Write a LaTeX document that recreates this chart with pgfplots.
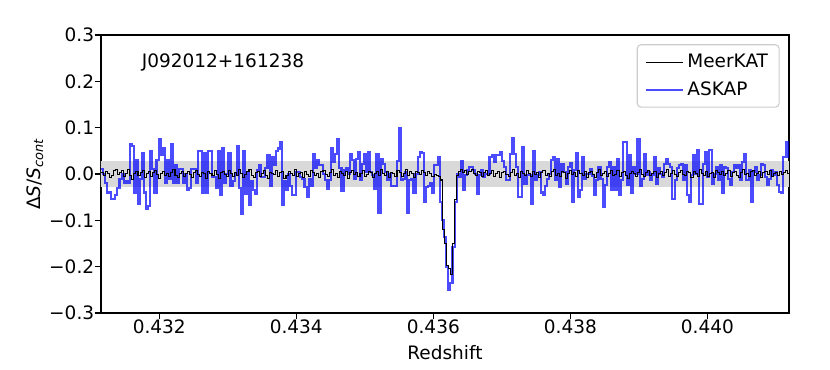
\documentclass[border=0pt]{standalone}
\usepackage{fontspec}
\setmainfont{DejaVu Sans}
\usepackage{pgfplots}
\usepackage{pgfplotstable}
\pgfplotsset{compat=1.18}
\definecolor{bandgray}{RGB}{217,217,217}
\definecolor{legframe}{RGB}{204,204,204}
\definecolor{askapblue}{RGB}{0,0,255}
\pgfplotsset{
  steplegend/.style={legend image code/.code={\draw[##1] (0pt,0pt) -- (20pt,0pt);}},
}

% redshift, ASKAP, MeerKAT (Delta S / S_cont)
\pgfplotstableread[row sep=\\]{
z askap meer\\
0.43115 0.010 0.004\\ 0.43118 0.000 -0.003\\ 0.43121 -0.020 0.006\\ 0.43124 -0.040 0.002\\ 0.43127 -0.040 -0.008\\
0.43130 -0.055 -0.004\\ 0.43133 -0.055 0.007\\ 0.43136 -0.045 0.010\\ 0.43139 -0.030 -0.002\\ 0.43142 -0.010 0.003\\
0.43145 0.000 0.008\\ 0.43148 -0.020 -0.006\\ 0.43151 -0.015 0.002\\ 0.43154 -0.020 0.009\\ 0.43157 0.065 -0.004\\
0.43160 0.060 -0.011\\ 0.43163 -0.040 0.001\\ 0.43166 0.030 0.006\\ 0.43169 -0.065 -0.003\\ 0.43172 -0.010 0.004\\
0.43175 0.045 0.008\\ 0.43178 -0.040 -0.007\\ 0.43181 -0.075 0.000\\ 0.43184 -0.070 0.005\\ 0.43187 0.050 -0.006\\
0.43190 0.010 0.003\\ 0.43193 -0.040 0.007\\ 0.43196 0.030 -0.002\\ 0.43199 0.075 -0.009\\ 0.43202 0.040 0.002\\
0.43205 0.055 0.006\\ 0.43208 -0.020 -0.004\\ 0.43211 0.030 0.001\\ 0.43214 -0.010 -0.006\\ 0.43217 0.065 0.004\\
0.43220 -0.020 0.009\\ 0.43223 0.020 -0.003\\ 0.43226 -0.020 -0.008\\ 0.43229 0.010 0.002\\ 0.43232 0.010 0.005\\
0.43235 -0.020 -0.005\\ 0.43238 0.000 0.000\\ 0.43241 -0.035 0.006\\ 0.43244 -0.030 -0.002\\ 0.43247 0.010 -0.007\\
0.43250 0.010 0.003\\ 0.43253 -0.020 0.008\\ 0.43256 0.050 -0.001\\ 0.43259 0.050 -0.006\\ 0.43262 -0.040 0.004\\
0.43265 0.045 0.002\\ 0.43268 -0.040 -0.009\\ 0.43271 0.050 0.005\\ 0.43274 0.050 0.001\\ 0.43277 -0.007 -0.004\\
0.43280 -0.007 0.007\\ 0.43283 -0.030 -0.002\\ 0.43286 0.050 -0.010\\ 0.43289 -0.045 0.003\\ 0.43292 0.055 0.006\\
0.43295 -0.020 -0.001\\ 0.43298 0.000 -0.005\\ 0.43301 0.045 0.008\\ 0.43304 -0.025 0.002\\ 0.43307 -0.015 -0.006\\
0.43310 0.000 0.004\\ 0.43313 0.060 -0.003\\ 0.43316 -0.030 0.009\\ 0.43319 -0.087 0.001\\ 0.43322 0.050 -0.007\\
0.43325 -0.043 -0.002\\ 0.43328 0.005 0.005\\ 0.43331 -0.068 0.010\\ 0.43334 -0.015 -0.004\\ 0.43337 -0.035 -0.008\\
0.43340 -0.043 0.003\\ 0.43343 0.008 0.006\\ 0.43346 0.020 -0.005\\ 0.43349 -0.007 0.001\\ 0.43352 -0.007 0.007\\
0.43355 0.012 -0.003\\ 0.43358 0.040 -0.009\\ 0.43361 -0.025 0.004\\ 0.43364 0.037 0.002\\ 0.43367 0.020 -0.002\\
0.43370 0.050 0.008\\ 0.43373 0.055 -0.006\\ 0.43376 0.068 0.003\\ 0.43379 -0.068 0.005\\ 0.43382 -0.015 -0.010\\
0.43385 -0.035 -0.004\\ 0.43388 0.000 0.006\\ 0.43391 -0.025 0.002\\ 0.43394 -0.046 -0.003\\ 0.43397 -0.046 0.009\\
0.43400 0.005 -0.005\\ 0.43403 0.005 0.001\\ 0.43406 -0.007 0.004\\ 0.43409 -0.010 -0.007\\ 0.43412 -0.028 0.006\\
0.43415 -0.050 -0.002\\ 0.43418 -0.010 -0.005\\ 0.43421 -0.025 0.008\\ 0.43424 0.043 0.003\\ 0.43427 0.012 -0.004\\
0.43430 0.030 0.002\\ 0.43433 0.019 -0.008\\ 0.43436 0.019 0.005\\ 0.43439 0.000 0.007\\ 0.43442 -0.014 -0.001\\
0.43445 -0.032 -0.006\\ 0.43448 -0.014 0.004\\ 0.43451 0.056 0.009\\ 0.43454 0.026 -0.003\\ 0.43457 0.044 0.000\\
0.43460 0.076 -0.007\\ 0.43463 0.012 0.005\\ 0.43466 -0.037 0.002\\ 0.43469 0.008 -0.004\\ 0.43472 0.012 0.006\\
0.43475 0.000 -0.009\\ 0.43478 0.044 0.003\\ 0.43481 0.030 0.007\\ 0.43484 -0.010 -0.002\\ 0.43487 0.033 0.004\\
0.43490 0.047 -0.006\\ 0.43493 -0.014 0.001\\ 0.43496 0.022 0.008\\ 0.43499 0.044 -0.005\\ 0.43502 0.004 -0.001\\
0.43505 0.047 0.006\\ 0.43508 0.004 0.003\\ 0.43511 -0.003 -0.007\\ 0.43514 -0.032 0.002\\ 0.43517 0.044 0.005\\
0.43520 -0.084 -0.004\\ 0.43523 0.033 0.009\\ 0.43526 0.022 0.000\\ 0.43529 0.004 -0.003\\ 0.43532 -0.014 0.006\\
0.43535 0.000 -0.008\\ 0.43538 -0.025 0.004\\ 0.43541 -0.025 0.001\\ 0.43544 -0.025 -0.005\\ 0.43547 0.028 0.007\\
0.43550 0.100 0.003\\ 0.43553 -0.014 -0.006\\ 0.43556 -0.010 0.002\\ 0.43559 0.004 0.010\\ 0.43562 -0.085 -0.004\\
0.43565 -0.014 0.005\\ 0.43568 -0.010 0.001\\ 0.43571 -0.040 -0.007\\ 0.43574 0.000 0.006\\ 0.43577 0.037 0.003\\
0.43580 0.047 -0.002\\ 0.43583 0.045 0.008\\ 0.43586 -0.060 0.004\\ 0.43589 -0.028 -0.003\\ 0.43592 -0.025 0.006\\
0.43595 -0.020 0.002\\ 0.43598 -0.042 -0.005\\ 0.43601 0.019 -0.002\\ 0.43604 0.019 -0.004\\ 0.43607 0.037 -0.006\\
0.43610 -0.060 -0.013\\ 0.43613 -0.100 -0.120\\ 0.43616 -0.136 -0.150\\ 0.43619 -0.200 -0.197\\ 0.43622 -0.250 -0.205\\
0.43625 -0.235 -0.218\\ 0.43628 -0.157 -0.149\\ 0.43631 -0.060 -0.056\\ 0.43634 0.000 -0.004\\ 0.43637 -0.007 0.006\\
0.43640 0.027 0.010\\ 0.43643 -0.035 0.003\\ 0.43646 -0.003 0.008\\ 0.43649 0.008 -0.002\\ 0.43652 0.015 0.005\\
0.43655 0.015 0.009\\ 0.43658 0.008 0.001\\ 0.43661 0.000 -0.004\\ 0.43664 -0.043 0.006\\ 0.43667 -0.003 0.003\\
0.43670 0.008 -0.006\\ 0.43673 -0.007 0.004\\ 0.43676 0.000 0.008\\ 0.43679 0.000 -0.003\\ 0.43682 0.037 0.002\\
0.43685 0.040 0.007\\ 0.43688 0.026 -0.005\\ 0.43691 0.040 0.001\\ 0.43694 0.040 0.006\\ 0.43697 0.047 -0.008\\
0.43700 0.029 0.003\\ 0.43703 0.015 0.005\\ 0.43706 -0.014 -0.002\\ 0.43709 -0.014 -0.006\\ 0.43712 0.044 0.004\\
0.43715 0.078 0.009\\ 0.43718 0.043 -0.003\\ 0.43721 0.015 0.001\\ 0.43724 -0.050 -0.007\\ 0.43727 -0.050 0.005\\
0.43730 0.058 0.002\\ 0.43733 -0.021 -0.004\\ 0.43736 -0.003 0.008\\ 0.43739 -0.003 0.000\\ 0.43742 -0.065 -0.005\\
0.43745 0.050 0.006\\ 0.43748 -0.014 -0.002\\ 0.43751 -0.003 0.003\\ 0.43754 0.004 -0.008\\ 0.43757 -0.040 0.004\\
0.43760 -0.046 0.007\\ 0.43763 -0.025 -0.004\\ 0.43766 -0.010 0.001\\ 0.43769 0.000 -0.006\\ 0.43772 0.030 0.005\\
0.43775 0.037 0.009\\ 0.43778 -0.014 -0.003\\ 0.43781 0.033 0.002\\ 0.43784 -0.028 -0.005\\ 0.43787 0.022 0.006\\
0.43790 0.004 0.003\\ 0.43793 -0.021 -0.009\\ 0.43796 0.015 0.001\\ 0.43799 0.024 0.007\\ 0.43802 -0.060 -0.002\\
0.43805 0.008 0.004\\ 0.43808 0.046 -0.006\\ 0.43811 -0.050 0.008\\ 0.43814 -0.035 0.000\\ 0.43817 0.037 -0.004\\
0.43820 -0.010 0.005\\ 0.43823 0.000 -0.007\\ 0.43826 0.000 0.003\\ 0.43829 0.011 0.006\\ 0.43832 -0.005 -0.002\\
0.43835 -0.046 -0.008\\ 0.43838 -0.014 0.004\\ 0.43841 0.015 0.010\\ 0.43844 -0.010 -0.003\\ 0.43847 -0.071 0.001\\
0.43850 -0.024 0.006\\ 0.43853 0.015 -0.005\\ 0.43856 0.026 0.002\\ 0.43859 -0.035 0.007\\ 0.43862 0.015 -0.004\\
0.43865 -0.035 -0.001\\ 0.43868 0.033 0.008\\ 0.43871 -0.046 -0.006\\ 0.43874 -0.014 0.003\\ 0.43877 0.069 0.005\\
0.43880 0.069 -0.003\\ 0.43883 -0.024 -0.009\\ 0.43886 0.040 0.002\\ 0.43889 -0.042 0.006\\ 0.43892 0.015 0.001\\
0.43895 0.000 -0.005\\ 0.43898 0.076 0.004\\ 0.43901 -0.025 0.009\\ 0.43904 -0.010 -0.002\\ 0.43907 0.044 -0.006\\
0.43910 -0.003 0.003\\ 0.43913 0.004 0.007\\ 0.43916 -0.014 -0.004\\ 0.43919 -0.003 0.000\\ 0.43922 0.037 0.005\\
0.43925 -0.021 -0.008\\ 0.43928 0.012 0.002\\ 0.43931 0.000 0.006\\ 0.43934 -0.006 -0.003\\ 0.43937 0.022 0.004\\
0.43940 0.033 0.010\\ 0.43943 0.022 -0.005\\ 0.43946 0.015 0.001\\ 0.43949 -0.053 0.007\\ 0.43952 -0.014 -0.002\\
0.43955 0.012 -0.006\\ 0.43958 0.019 0.004\\ 0.43961 0.022 0.008\\ 0.43964 -0.014 -0.001\\ 0.43967 0.019 -0.004\\
0.43970 -0.046 0.006\\ 0.43973 -0.060 0.003\\ 0.43976 -0.003 -0.007\\ 0.43979 0.040 0.005\\ 0.43982 0.000 0.002\\
0.43985 0.051 -0.005\\ 0.43988 -0.064 0.009\\ 0.43991 -0.064 0.001\\ 0.43994 0.022 -0.003\\ 0.43997 0.047 0.006\\
0.44000 -0.006 -0.006\\ 0.44003 0.051 0.002\\ 0.44006 -0.021 0.004\\ 0.44009 0.000 -0.008\\ 0.44012 0.015 0.007\\
0.44015 -0.014 0.003\\ 0.44018 0.019 -0.002\\ 0.44021 -0.042 0.005\\ 0.44024 0.015 -0.004\\ 0.44027 0.012 0.001\\
0.44030 -0.010 0.008\\ 0.44033 -0.024 -0.005\\ 0.44036 0.004 0.003\\ 0.44039 0.019 0.006\\ 0.44042 0.012 -0.003\\
0.44045 0.019 -0.007\\ 0.44048 -0.014 0.004\\ 0.44051 0.026 0.009\\ 0.44054 0.044 -0.001\\ 0.44057 -0.014 0.002\\
0.44060 0.008 -0.006\\ 0.44063 -0.060 0.005\\ 0.44066 0.004 0.007\\ 0.44069 0.015 -0.004\\ 0.44072 -0.014 0.001\\
0.44075 -0.003 0.006\\ 0.44078 0.022 -0.008\\ 0.44081 0.019 0.003\\ 0.44084 -0.006 0.005\\ 0.44087 -0.024 -0.002\\
0.44090 -0.010 0.008\\ 0.44093 0.008 -0.005\\ 0.44096 -0.003 0.002\\ 0.44099 0.004 0.004\\ 0.44102 -0.024 -0.003\\
0.44105 -0.039 0.006\\ 0.44108 -0.042 -0.002\\ 0.44111 0.037 0.003\\ 0.44114 0.069 0.007\\ 0.44117 0.037 0.001\\
0.44120 0.037 0.004\\ 0.44123 0.037 0.004\\
}\spec

\begin{document}
\begin{tikzpicture}
\begin{axis}[
  scale only axis,
  width=371.9pt, height=150.3pt,
  xmin=0.43115, xmax=0.44119,
  ymin=-0.3, ymax=0.3,
  scaled ticks=false,
  xtick={0.432,0.434,0.436,0.438,0.440},
  xticklabels={0.432,0.434,0.436,0.438,0.440},
  ytick={-0.3,-0.2,-0.1,0,0.1,0.2,0.3},
  yticklabels={−0.3,−0.2,−0.1,0.0,0.1,0.2,0.3},
  tick align=outside,
  tick pos=left,
  major tick length=3.5pt,
  tick style={black, line width=0.8pt},
  axis line style={line width=0.8pt},
  tick label style={font=\fontsize{10}{12}\selectfont},
  xticklabel style={inner sep=0pt},
  yticklabel style={inner sep=0pt},
  xlabel={Redshift},
  ylabel={Δ\textit{S}/\textit{S}\textsubscript{\textit{cont}}},
  label style={font=\fontsize{10}{12}\selectfont},
  xlabel style={at={(axis description cs:0.5,-0.144)}, anchor=center},
  ylabel style={at={(axis description cs:-0.096,0.5)}, anchor=center},
  steplegend,
  legend cell align=left,
  legend style={at={(1,1)}, anchor=north east, xshift=-5pt, yshift=-5pt,
    draw=legframe, rounded corners=2pt, line width=0.6pt,
    font=\fontsize{10}{12}\selectfont, inner xsep=4pt, inner ysep=3pt,
    row sep=2pt},
]
\addplot[draw=none, fill=bandgray, forget plot] coordinates {
  (0.4311,-0.029) (0.4413,-0.029) (0.4413,0.029) (0.4311,0.029)} --cycle;
\addplot[const plot, draw=askapblue, line width=1.1pt, draw opacity=0.7, forget plot]
  table[x=z, y=askap] {\spec};
\addplot[const plot, draw=black, line width=0.55pt, forget plot]
  table[x=z, y=meer] {\spec};
\addlegendimage{draw=black, line width=0.6pt}
\addlegendentry{MeerKAT}
\addlegendimage{draw=askapblue, line width=1.1pt, draw opacity=0.7}
\addlegendentry{ASKAP}
\node[anchor=west, font=\fontsize{10}{12}\selectfont] at (rel axis cs:0.05,0.9) {J092012+161238};
\end{axis}
\pgfresetboundingbox
\path ([xshift=-54.6pt,yshift=-30.3pt]current axis.south west) rectangle ([xshift=22.2pt,yshift=18.9pt]current axis.north east);
\end{tikzpicture}
\end{document}
